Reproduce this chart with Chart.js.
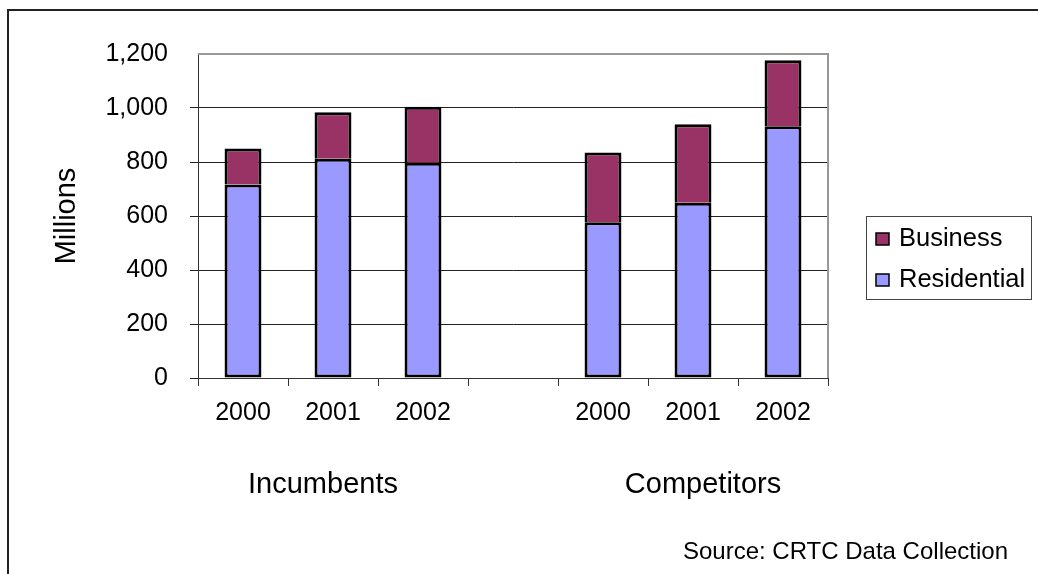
<!DOCTYPE html>
<html>
<head>
<meta charset="utf-8">
<script src="https://cdn.jsdelivr.net/npm/chart.js@4/dist/chart.umd.min.js"></script>
<style>
  html, body { margin: 0; padding: 0; background: #fff; }
  #wrap { width: 1038px; height: 574px; position: relative; }
</style>
</head>
<body>
<div id="wrap"><canvas id="lineChart" width="1038" height="574"></canvas></div>
<script>
// lines per year, in millions
var categories = ['2000', '2001', '2002', '', '2000', '2001', '2002'];
var residential = [717, 812, 797, null, 577, 649, 932];
var business = [133, 172, 208, null, 258, 291, 245];
var groups = ['Incumbents', 'Competitors'];
var groupSpans = [[0, 2], [4, 6]];
var groupNudge = [-10, 10];
var sourceText = 'Source: CRTC Data Collection';

var FONT = "'Liberation Sans', Arial, sans-serif";

// frame, plot border, group names, legend box and source line
var extras = {
    id: 'extras',
    beforeDraw: function (chart) {
        var ctx = chart.ctx;
        ctx.save();
        ctx.fillStyle = '#fff';
        ctx.fillRect(0, 0, chart.width, chart.height);
        ctx.strokeStyle = '#222';
        ctx.lineWidth = 2;
        ctx.beginPath();
        ctx.moveTo(8, chart.height);
        ctx.lineTo(8, 10);
        ctx.lineTo(chart.width, 10);
        ctx.stroke();
        ctx.restore();
    },
    afterDraw: function (chart) {
        var ctx = chart.ctx;
        var area = chart.chartArea;
        var xs = chart.scales.x;
        ctx.save();

        // grey top and right edges of the plot
        ctx.strokeStyle = '#999';
        ctx.lineWidth = 2;
        ctx.beginPath();
        ctx.moveTo(area.left, area.top);
        ctx.lineTo(area.right, area.top);
        ctx.lineTo(area.right, area.bottom);
        ctx.stroke();

        // group names under the years
        ctx.fillStyle = '#000';
        ctx.font = '29px ' + FONT;
        ctx.textAlign = 'center';
        ctx.textBaseline = 'middle';
        for (var i = 0; i < groups.length; i++) {
            var cx = (xs.getPixelForValue(groupSpans[i][0]) + xs.getPixelForValue(groupSpans[i][1])) / 2;
            ctx.fillText(groups[i], cx + groupNudge[i], 485);
        }

        // legend, business on top
        ctx.strokeStyle = '#444';
        ctx.lineWidth = 1;
        ctx.strokeRect(866.5, 216.5, 165, 83);
        ctx.font = '25.5px ' + FONT;
        ctx.textAlign = 'left';
        var sets = chart.data.datasets.slice().reverse();
        for (var j = 0; j < sets.length; j++) {
            var cy = 239 + j * 41;
            ctx.fillStyle = sets[j].backgroundColor;
            ctx.fillRect(876, cy - 6, 13, 12);
            ctx.strokeStyle = '#000';
            ctx.lineWidth = 1.5;
            ctx.strokeRect(876, cy - 6, 13, 12);
            ctx.fillStyle = '#000';
            ctx.fillText(sets[j].label, 899, cy);
        }

        // source line
        ctx.font = '24px ' + FONT;
        ctx.textAlign = 'right';
        ctx.fillText(sourceText, 1008, 552);
        ctx.restore();
    }
};

var chartdata = {
    labels: categories,
    datasets: [
        {
            label: 'Residential',
            backgroundColor: '#9999FF',
            borderColor: '#000',
            borderWidth: 3,
            borderSkipped: false,
            data: residential
        },
        {
            label: 'Business',
            backgroundColor: '#993366',
            borderColor: '#000',
            borderWidth: 3,
            borderSkipped: 'bottom',
            data: business
        }
    ]
};

var ctx = document.getElementById('lineChart');
var barGraph = new Chart(ctx, {
    type: 'bar',
    data: chartdata,
    plugins: [extras],
    options: {
        responsive: false,
        animation: false,
        devicePixelRatio: 1,
        layout: {
            padding: { top: 54, right: 210, left: 0, bottom: 0 }
        },
        datasets: {
            bar: { categoryPercentage: 1, barPercentage: 0.41 }
        },
        plugins: {
            legend: { display: false },
            tooltip: { enabled: false }
        },
        scales: {
            x: {
                stacked: true,
                afterFit: function (scale) { scale.height = 196; },
                grid: {
                    offset: true,
                    drawOnChartArea: false,
                    drawTicks: true,
                    tickLength: 8,
                    color: '#333'
                },
                border: { display: true, color: '#333', width: 1 },
                ticks: {
                    color: '#000',
                    padding: 12,
                    maxRotation: 0,
                    autoSkip: false,
                    font: { family: FONT, size: 25 }
                }
            },
            y: {
                stacked: true,
                min: 0,
                max: 1200,
                afterFit: function (scale) { scale.width = 198; },
                grid: {
                    drawTicks: true,
                    tickLength: 8,
                    color: function (c) {
                        return c.tick && c.tick.value === 1200 ? 'rgba(0,0,0,0)' : '#222';
                    }
                },
                border: { display: true, color: '#333', width: 1 },
                ticks: {
                    stepSize: 200,
                    color: '#000',
                    padding: 22,
                    font: { family: FONT, size: 25 }
                },
                title: {
                    display: true,
                    text: 'Millions',
                    color: '#000',
                    padding: { top: 50, bottom: 0 },
                    font: { family: FONT, size: 29 }
                }
            }
        }
    }
});
</script>
</body>
</html>
